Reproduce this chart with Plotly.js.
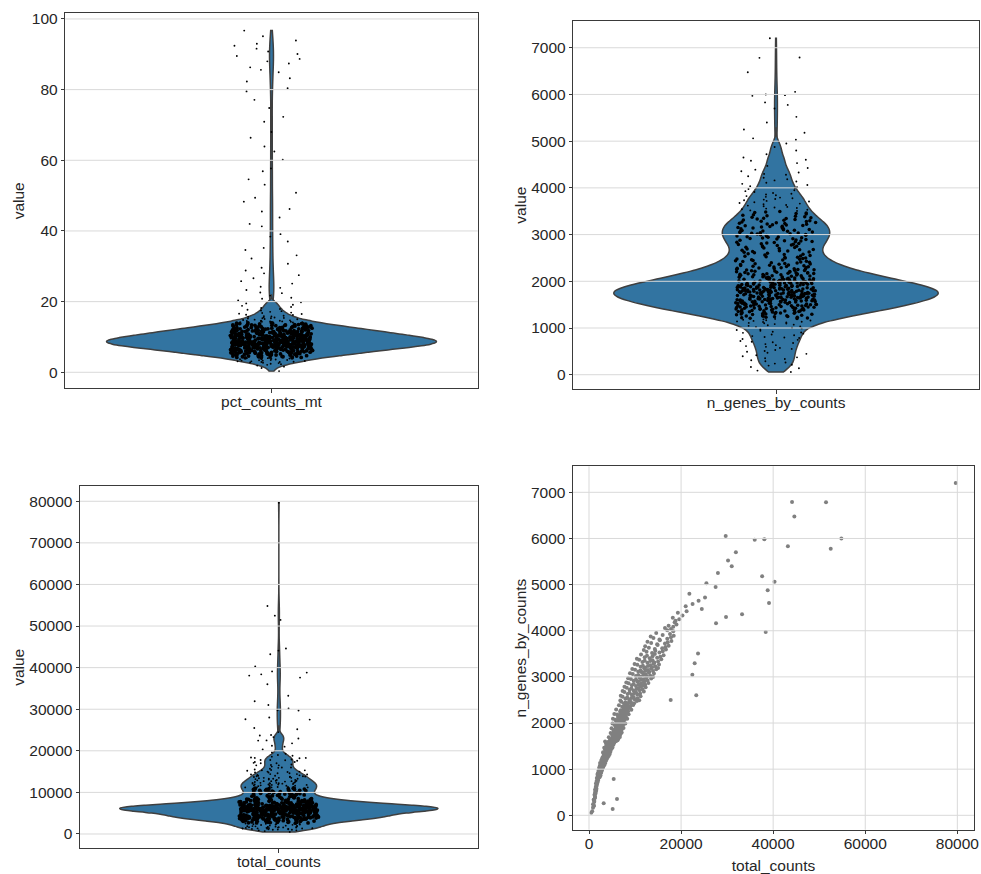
<!DOCTYPE html>
<html>
<head>
<meta charset="utf-8">
<script src="https://cdn.plot.ly/plotly-3.0.1.min.js"></script>
<style>html,body{margin:0;padding:0;background:#fff;}#chart{width:981px;height:874px;}</style>
</head>
<body>
<div id="chart"></div>
<script>
// ---------------- data ----------------
const pct_counts_mt = [
0.3,1.2,1.6,1.9,
2.1,2.3,2.4,2.6,2.7,2.8,2.9,2.9,
3.0,3.1,3.1,3.2,3.3,3.3,3.4,3.5,3.5,3.6,3.7,3.7,3.8,3.9,3.9,
4.0,4.0,4.1,4.1,4.2,4.2,4.2,4.3,4.3,4.4,4.4,4.4,4.5,4.5,4.6,4.6,4.6,4.7,4.7,4.8,4.8,4.8,4.9,4.9,4.9,
5.0,5.0,5.0,5.0,5.1,5.1,5.1,5.1,5.2,5.2,5.2,5.2,5.3,5.3,5.3,5.3,5.4,5.4,5.4,5.4,5.5,5.5,5.5,5.5,5.6,5.6,5.6,5.6,5.7,5.7,5.7,5.7,5.8,5.8,5.8,5.9,5.9,5.9,
6.0,6.0,6.0,6.0,6.0,6.1,6.1,6.1,6.1,6.1,6.2,6.2,6.2,6.2,6.2,6.3,6.3,6.3,6.3,6.3,6.4,6.4,6.4,6.4,6.4,6.5,6.5,6.5,6.5,6.5,6.6,6.6,6.6,6.6,6.6,6.7,6.7,6.7,6.7,6.7,6.8,6.8,6.8,6.8,6.8,6.8,6.9,6.9,6.9,6.9,6.9,6.9,
7.0,7.0,7.0,7.0,7.0,7.0,7.1,7.1,7.1,7.1,7.1,7.1,7.2,7.2,7.2,7.2,7.2,7.2,7.3,7.3,7.3,7.3,7.3,7.3,7.4,7.4,7.4,7.4,7.4,7.4,7.5,7.5,7.5,7.5,7.5,7.5,7.5,7.6,7.6,7.6,7.6,7.6,7.6,7.6,7.7,7.7,7.7,7.7,7.7,7.7,7.7,7.8,7.8,7.8,7.8,7.8,7.8,7.8,7.9,7.9,7.9,7.9,7.9,7.9,
8.0,8.0,8.0,8.0,8.0,8.0,8.0,8.1,8.1,8.1,8.1,8.1,8.1,8.1,8.2,8.2,8.2,8.2,8.2,8.2,8.2,8.3,8.3,8.3,8.3,8.3,8.3,8.3,8.4,8.4,8.4,8.4,8.4,8.4,8.4,8.5,8.5,8.5,8.5,8.5,8.5,8.5,8.5,8.6,8.6,8.6,8.6,8.6,8.6,8.6,8.7,8.7,8.7,8.7,8.7,8.7,8.7,8.7,8.8,8.8,8.8,8.8,8.8,8.8,8.8,8.9,8.9,8.9,8.9,8.9,8.9,8.9,
9.0,9.0,9.0,9.0,9.0,9.0,9.0,9.1,9.1,9.1,9.1,9.1,9.1,9.1,9.2,9.2,9.2,9.2,9.2,9.2,9.2,9.3,9.3,9.3,9.3,9.3,9.3,9.3,9.4,9.4,9.4,9.4,9.4,9.4,9.4,9.5,9.5,9.5,9.5,9.5,9.5,9.5,9.6,9.6,9.6,9.6,9.6,9.6,9.6,9.7,9.7,9.7,9.7,9.7,9.7,9.7,9.8,9.8,9.8,9.8,9.8,9.8,9.9,9.9,9.9,9.9,9.9,9.9,
10.0,10.0,10.0,10.0,10.0,10.0,10.0,10.1,10.1,10.1,10.1,10.1,10.1,10.2,10.2,10.2,10.2,10.2,10.2,10.3,10.3,10.3,10.3,10.3,10.3,10.4,10.4,10.4,10.4,10.4,10.4,10.5,10.5,10.5,10.5,10.5,10.5,10.6,10.6,10.6,10.6,10.6,10.6,10.7,10.7,10.7,10.7,10.7,10.7,10.8,10.8,10.8,10.8,10.8,10.9,10.9,10.9,10.9,10.9,
11.0,11.0,11.0,11.0,11.0,11.1,11.1,11.1,11.1,11.1,11.2,11.2,11.2,11.2,11.2,11.3,11.3,11.3,11.3,11.3,11.4,11.4,11.4,11.4,11.4,11.5,11.5,11.5,11.5,11.5,11.6,11.6,11.6,11.6,11.6,11.7,11.7,11.7,11.7,11.7,11.8,11.8,11.8,11.8,11.9,11.9,11.9,11.9,
12.0,12.0,12.0,12.0,12.1,12.1,12.1,12.1,12.2,12.2,12.2,12.2,12.3,12.3,12.3,12.3,12.4,12.4,12.4,12.4,12.5,12.5,12.5,12.5,12.6,12.6,12.6,12.6,12.7,12.7,12.7,12.8,12.8,12.8,12.9,12.9,12.9,
13.0,13.0,13.0,13.1,13.1,13.1,13.2,13.2,13.2,13.3,13.3,13.3,13.4,13.4,13.4,13.5,13.5,13.5,13.6,13.6,13.7,13.7,13.8,13.8,13.9,13.9,
14.0,14.0,14.1,14.1,14.2,14.2,14.3,14.3,14.4,14.4,14.5,14.5,14.6,14.6,14.7,14.8,14.9,
15.0,15.1,15.2,15.3,15.3,15.4,15.5,15.6,15.7,15.8,15.9,
16.0,16.2,16.3,16.5,16.6,16.8,16.9,
17.1,17.3,17.5,17.7,17.9,
18.2,18.5,18.8,
19.1,19.5,19.8,
20.3,20.8,21.1,21.7,22.4,22.6,23.3,23.9,24.2,25.1,25.8,26.6,27.5,28.0,28.8,29.6,
30.7,32.2,33.1,34.6,35.2,37.0,38.4,39.1,41.3,42.0,43.8,45.5,46.2,48.3,49.4,
50.8,53.1,54.6,56.9,57.7,60.2,62.5,63.9,66.4,68.0,70.9,72.3,74.8,77.1,79.5,
80.4,82.3,83.2,84.9,85.6,86.3,87.4,88.0,88.7,89.5,90.1,90.8,91.6,92.4,93.0,93.9,95.1,96.7
];

// paired per cell: n_genes_by_counts[i] <-> total_counts[i]
const n_genes_by_counts = [
57,88,137,165,195,
212,238,261,289,
310,336,353,372,395,
418,446,471,493,
507,530,552,574,596,
612,633,655,678,694,
705,722,746,763,785,797,
808,827,844,862,879,896,
905,921,940,958,973,991,
1004,1019,1031,1046,1058,1072,1083,1097,
1103,1109,1118,1127,1133,1141,1152,1159,1167,1176,1184,1195,
1203,1208,1216,1221,1228,1232,1240,1244,1251,1258,1263,1270,1274,1282,1287,1293,1299,
1301,1305,1311,1314,1319,1322,1327,1330,1335,1339,1342,1347,1351,1354,1359,1363,1366,1371,1374,1379,1383,1387,1392,1397,
1401,1404,1408,1411,1415,1418,1421,1425,1428,1431,1435,1438,1442,1445,1448,1452,1455,1459,1462,1465,1469,1472,1476,1479,1482,1486,1489,1492,1496,1499,
1501,1504,1507,1510,1513,1516,1519,1522,1525,1528,1531,1534,1537,1540,1543,1546,1549,1552,1555,1558,1561,1564,1567,1570,1573,1576,1579,1582,1585,1588,1591,1593,1595,1597,1599,
1601,1604,1606,1609,1612,1614,1617,1620,1622,1625,1627,1630,1633,1635,1638,1641,1643,1646,1648,1651,1654,1656,1659,1662,1664,1667,1669,1672,1675,1677,1680,1683,1685,1688,1690,1693,1696,1698,
1701,1703,1706,1708,1711,1713,1716,1718,1721,1723,1726,1728,1731,1733,1736,1738,1740,1743,1745,1748,1750,1753,1755,1758,1760,1763,1765,1768,1770,1773,1775,1778,1780,1783,1785,1788,1790,1792,1795,1797,1799,
1801,1804,1806,1809,1811,1814,1816,1819,1821,1824,1826,1829,1831,1834,1836,1839,1841,1844,1846,1849,1851,1854,1856,1859,1861,1864,1866,1869,1871,1874,1876,1879,1881,1884,1886,1889,1891,1894,1897,
1902,1905,1908,1911,1914,1917,1920,1923,1926,1929,1932,1935,1938,1941,1944,1947,1950,1953,1956,1959,1962,1965,1968,1971,1974,1977,1980,1983,1986,1989,1992,1994,1996,1999,
2002,2006,2009,2013,2016,2020,2024,2027,2031,2034,2038,2041,2045,2049,2052,2056,2059,2063,2066,2070,2073,2077,2081,2084,2088,2091,2095,2098,
2103,2107,2112,2116,2120,2125,2129,2133,2138,2142,2146,2151,2155,2159,2164,2168,2172,2177,2181,2185,2190,2194,2198,
2204,2209,2215,2220,2226,2231,2237,2242,2248,2253,2259,2264,2270,2275,2281,2286,2292,2297,
2304,2311,2317,2324,2330,2337,2343,2350,2357,2363,2370,2376,2383,2389,2396,
2405,2413,2421,2429,2438,2446,2454,2463,2471,2479,2488,2496,
2500,2508,2517,2526,2535,2544,2553,2562,2571,2580,2591,
2602,2611,2620,2629,2638,2647,2656,2665,2674,2683,2692,
2704,2713,2722,2731,2740,2749,2758,2767,2776,2785,2794,
2803,2811,2819,2828,2836,2844,2853,2861,2869,2878,2886,2895,
2903,2910,2918,2926,2933,2941,2949,2956,2964,2972,2979,2987,2995,
3003,3010,3018,3026,3033,3041,3046,3056,3064,3072,3079,3087,3095,
3103,3110,3118,3126,3133,3141,3149,3156,3164,3172,3179,3187,3195,
3203,3211,3219,3228,3236,3244,3253,3261,3269,3278,3286,3298,
3305,3314,3324,3333,3343,3352,3362,3371,3381,3392,
3405,3416,3427,3438,3449,3460,3471,3483,3494,
3507,3518,3531,3543,3556,3568,3581,3593,
3606,3620,3634,3649,3663,3677,3692,
3707,3721,3735,3749,3763,3778,3792,
3808,3824,3841,3857,3874,3890,
3910,3930,3950,3975,3990,
4012,4037,4061,4086,4110,4135,4160,4185,
4215,4248,4281,4299,4330,4357,4390,4425,4470,
4530,4580,4602,4650,4720,4800,4875,4950,
5030,5060,5180,5250,5400,
5520,5700,5776,5830,5970,5985,5999,6056,6474,6784,6791,7202
];

const total_counts = [
500,690,5140,870,1020,
1060,880,3190,1130,
1150,1010,6080,1240,1320,
1280,1190,1420,1350,
1390,1560,1310,1620,1480,
1470,1650,1580,1760,1530,
1720,1890,1650,2010,5360,1840,
1700,2300,1950,2500,1850,2150,
1900,2650,2250,2050,2800,2400,
2450,2900,2200,3100,2650,2350,3300,2800,
2600,3200,2850,3500,2400,3050,3350,2750,3150,2950,3700,2700,
3100,3600,2800,3400,3900,3250,3050,3700,3450,2950,4100,3350,3550,3800,3200,4300,3500,
3500,3900,3300,4200,3650,3800,4500,3400,3700,4000,3150,3850,3600,4350,3950,3750,3050,4100,3550,4650,3850,4000,3700,4250,
3900,4300,3600,4500,4100,3800,4700,4000,4250,3500,4400,4050,3700,4900,4150,3950,4600,4200,3300,4350,4000,5100,3850,4450,4100,3650,4800,4250,3950,4550,
4400,4800,4100,5000,4550,4250,4700,3900,4600,5300,4350,4750,4450,4000,4900,4650,4200,5100,4500,3700,4850,4550,4300,5500,4650,4400,4950,4100,4700,4600,5200,4300,4800,4500,3500,
5300,5700,5000,5900,5400,5150,5600,4800,5500,6200,5250,5650,5350,4900,5800,5550,5100,6000,5450,4600,5750,5400,5200,6400,5550,5300,5850,5050,5600,5500,6100,5200,5700,5400,4300,5950,5350,6700,
5700,6100,5400,6300,5800,5550,6000,5200,5900,6600,5650,6050,5750,5300,6200,5950,5500,6400,5850,5000,6150,5800,5600,6800,5950,5700,6250,5450,6000,5900,6500,5600,6100,5800,4700,6350,5750,7100,5850,5350,6050,
6000,6400,5700,6600,6100,5850,6300,5500,6200,6900,5950,6350,6050,5600,6500,6250,5800,6700,6150,5300,6450,6100,5900,7100,6250,6000,6550,5750,6300,6200,6800,5900,6400,6100,4900,6650,6050,7500,6150,
6300,6750,6000,6950,6400,6150,6650,5800,6550,7250,6250,6700,6350,5900,6850,6600,6100,7050,6500,5600,6800,6450,6200,7500,6600,6350,6900,6050,6650,7900,5100,7000,6400,6750,
6500,6950,6150,7200,6600,6300,6850,5900,6750,7500,6400,6900,6550,6050,7100,6800,6250,7300,6700,5700,7000,6650,6350,7800,6800,8300,5200,6950,
6950,7400,6600,7700,7050,6750,7300,6300,7200,8000,6850,7350,7000,6450,7550,7250,6700,7800,7150,6100,8600,5500,7450,
7400,7900,7050,8200,7550,7200,7800,6750,7700,8500,7300,7850,7500,6900,8100,9200,5900,7650,
7900,8400,7550,8700,8050,7700,8300,7200,8200,9000,7800,8350,6500,9600,8000,
8400,9300,7600,9800,8600,7900,9100,7000,8900,10400,6800,10900,
17740,8700,9900,7900,10500,9200,8300,9700,7300,11200,6900,
23300,9300,10500,8400,11100,9800,8800,10200,7700,11900,7300,
9700,11000,8800,11600,10300,9200,10800,8200,12300,7700,11300,
10200,11600,9300,12200,10800,9700,11300,8600,12900,8100,11900,10500,
10700,12100,9700,12700,11300,10200,11800,9100,13500,8500,12400,11000,13900,
11200,12600,10200,13300,11800,10700,22450,12300,9500,14100,8900,13000,11500,
11700,13100,10700,13900,12300,11200,12800,10000,14600,9400,13500,12000,15000,
12200,13700,11200,14400,12800,11700,13300,10500,15200,9900,14000,22950,
12700,14200,11600,15000,13300,12100,13800,10900,15700,10400,
13200,14800,12100,15500,13800,12600,16200,11300,14300,
23680,13700,15300,12500,16000,14400,11900,16700,
14300,15900,13000,16600,12200,17300,14900,
14800,16500,13500,17100,12700,17900,15400,
15300,17000,14000,17800,13400,18400,
16000,17600,14600,38380,18300,
17000,17800,16500,18300,17300,19000,27590,18600,
18800,19600,18200,29760,20300,33240,19300,21200,24500,
21000,22500,39100,23800,25200,21800,38810,27500,
25500,40300,37600,28000,31000,
30200,31900,52500,43200,35990,38090,54820,29690,44600,51480,44100,79650
];

const violin_labels = ['pct_counts_mt', 'n_genes_by_counts', 'total_counts'];
const ticks_mt = [0, 20, 40, 60, 80, 100];
const ticks_genes = [0, 1000, 2000, 3000, 4000, 5000, 6000, 7000];
const ticks_total = [0, 10000, 20000, 30000, 40000, 50000, 60000, 70000, 80000];
const ticks_total_scatter = [0, 20000, 40000, 60000, 80000];

// ---------------- styling / layout ----------------
const W = 981, H = 874;
const dx = (a, b) => [a / W, b / W];
const dy = (top, bottom) => [1 - bottom / H, 1 - top / H];
const FONT = {family: 'Liberation Sans, Arial, Helvetica, sans-serif', size: 15.5, color: '#262626'};
const VIOLIN_FILL = '#3274a1', VIOLIN_LINE = '#3f3f3f', GRID = '#d9d9d9';

const axisBase = {
  showline: true, mirror: true, linecolor: '#3a3a3a', linewidth: 1,
  ticks: 'outside', ticklen: 3.5, tickwidth: 1, tickcolor: '#3a3a3a',
  showgrid: false, zeroline: false, tickfont: FONT, fixedrange: true
};
const plainTicks = (vals) => ({tickvals: vals, ticktext: vals.map(v => String(v))});

// Violin body: the bulk (tapering off naturally above its last values) drawn over
// a thin smoothed stem that carries the long sparse tail.
function violinTraces(values, cut, xa, ya, bwCore, bwTail, tailHalfPx, panelPx, group) {
  const core = values.filter(v => v <= cut);
  const tail = values.filter(v => v > cut);
  const base = {
    type: 'violin', x0: 0, xaxis: xa, yaxis: ya, scalemode: 'width', spanmode: 'manual',
    points: false, box: {visible: false}, meanline: {visible: false},
    fillcolor: VIOLIN_FILL, line: {color: VIOLIN_LINE, width: 1.5},
    hoverinfo: 'skip', showlegend: false
  };
  return [
    Object.assign({}, base, {y: tail, bandwidth: bwTail, scalegroup: group + '_tail',
      width: 2 * tailHalfPx / panelPx, span: [cut, Math.max.apply(null, tail)]}),
    Object.assign({}, base, {y: core, bandwidth: bwCore, scalegroup: group,
      span: [Math.min.apply(null, core), Math.max.apply(null, core) + 3 * bwCore]})
  ];
}

// strip points, split by value ranges so Plotly's jitter stays even across the band
function stripTraces(values, breaks, xa, ya, denseIndex, denseSize) {
  const edges = [-Infinity].concat(breaks, [Infinity]);
  const out = [];
  for (let i = 0; i < edges.length - 1; i++) {
    const part = values.filter(v => v > edges[i] && v <= edges[i + 1]);
    if (!part.length) continue;
    out.push({
      type: 'box', y: part, x0: 0, xaxis: xa, yaxis: ya, width: 0.8,
      boxpoints: 'all', jitter: 0.25, pointpos: 0,
      fillcolor: 'rgba(0,0,0,0)', line: {width: 0, color: 'rgba(0,0,0,0)'},
      marker: {color: '#000000', size: i === denseIndex ? denseSize : 1.9, line: {width: 0}},
      hoverinfo: 'skip', showlegend: false
    });
  }
  return out;
}

const traces = [].concat(
  violinTraces(pct_counts_mt, 20, 'x', 'y', 0.7, 3, 2.3, 412.4, 'mt'),
  stripTraces(pct_counts_mt, [4, 14, 16, 19, 30], 'x', 'y', 1, 3.8),
  violinTraces(n_genes_by_counts, 5000, 'x2', 'y2', 110, 350, 1.4, 405.4, 'genes'),
  stripTraces(n_genes_by_counts, [1000, 1200, 3500, 4000, 4500, 5000], 'x2', 'y2', 2, 3.5),
  violinTraces(total_counts, 24000, 'x3', 'y3', 720, 2500, 1.6, 397.7, 'total'),
  stripTraces(total_counts, [2500, 11000, 14000, 18000, 25000], 'x3', 'y3', 1, 3.8),
  [{
    type: 'scatter', mode: 'markers', x: total_counts, y: n_genes_by_counts,
    xaxis: 'x4', yaxis: 'y4',
    marker: {color: '#808080', size: 4, line: {width: 0}},
    hoverinfo: 'skip', showlegend: false
  }]
);

function hGrid(xa, ya, vals) {
  return vals.map(v => ({type: 'line', xref: xa + ' domain', yref: ya, x0: 0, x1: 1, y0: v, y1: v,
    layer: 'above', line: {color: GRID, width: 1}}));
}
function vGrid(xa, ya, vals) {
  return vals.map(v => ({type: 'line', xref: xa, yref: ya + ' domain', x0: v, x1: v, y0: 0, y1: 1,
    layer: 'above', line: {color: GRID, width: 1}}));
}

const title = (t) => ({text: t, font: FONT});

const layout = {
  width: W, height: H, margin: {l: 0, r: 0, t: 0, b: 0},
  paper_bgcolor: '#ffffff', plot_bgcolor: '#ffffff',
  showlegend: false, boxmode: 'overlay', violinmode: 'overlay',
  violingap: 0.2, violingroupgap: 0,
  font: FONT,
  xaxis: Object.assign({}, axisBase, {domain: dx(65.3, 477.7), anchor: 'y', type: 'linear', range: [-0.5, 0.5], tickvals: [0], ticktext: [violin_labels[0]], ticklabelstandoff: -4}),
  yaxis: Object.assign({}, axisBase, plainTicks(ticks_mt), {domain: dy(13.3, 388.3), anchor: 'x', range: [-4.53, 101.6], title: title('value')}),
  xaxis2: Object.assign({}, axisBase, {domain: dx(573.3, 978.7), anchor: 'y2', type: 'linear', range: [-0.5, 0.5], tickvals: [0], ticktext: [violin_labels[1]], ticklabelstandoff: -4}),
  yaxis2: Object.assign({}, axisBase, plainTicks(ticks_genes), {domain: dy(21.3, 389), anchor: 'x2', range: [-306, 7566], title: title('value')}),
  xaxis3: Object.assign({}, axisBase, {domain: dx(80, 477.7), anchor: 'y3', type: 'linear', range: [-0.5, 0.5], tickvals: [0], ticktext: [violin_labels[2]], ticklabelstandoff: -4}),
  yaxis3: Object.assign({}, axisBase, plainTicks(ticks_total), {domain: dy(486.3, 848.3), anchor: 'x3', range: [-3440, 83600], title: title('value')}),
  xaxis4: Object.assign({}, axisBase, plainTicks(ticks_total_scatter), {domain: dx(573, 974), anchor: 'y4', range: [-3475, 83620], ticklabelstandoff: -4, title: title('total_counts')}),
  yaxis4: Object.assign({}, axisBase, plainTicks(ticks_genes), {domain: dy(466.3, 829.7), anchor: 'x4', range: [-312, 7564], title: title('n_genes_by_counts')}),
  shapes: [].concat(
    hGrid('x', 'y', ticks_mt),
    hGrid('x2', 'y2', ticks_genes),
    hGrid('x3', 'y3', ticks_total),
    hGrid('x4', 'y4', ticks_genes),
    vGrid('x4', 'y4', ticks_total_scatter)
  )
};

Plotly.newPlot('chart', traces, layout, {staticPlot: true, displayModeBar: false});
</script>
</body>
</html>
